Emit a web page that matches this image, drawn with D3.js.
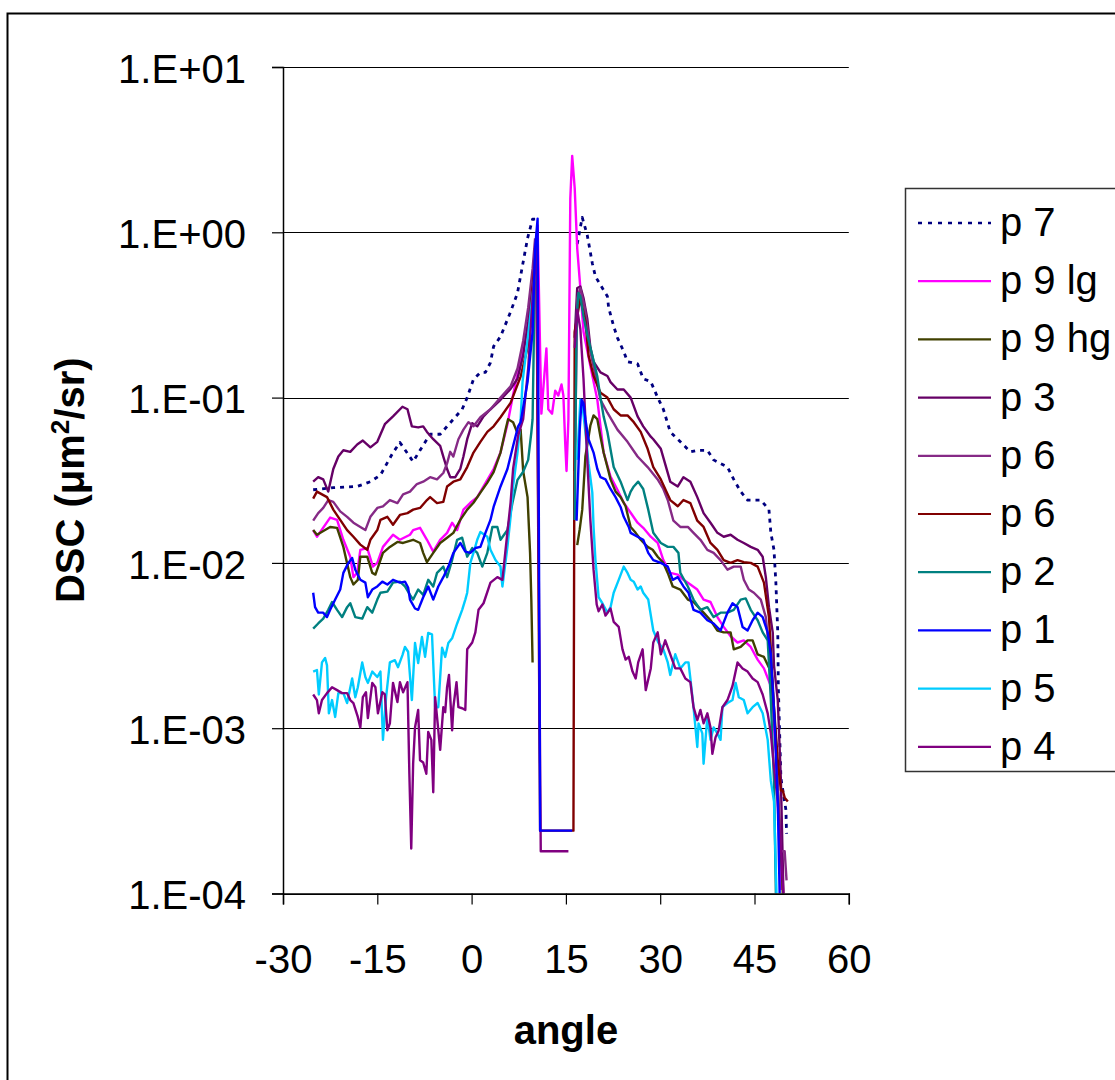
<!DOCTYPE html>
<html>
<head>
<meta charset="utf-8">
<script src="https://cdn.jsdelivr.net/npm/d3@7"></script>
<style>
  html, body { margin: 0; padding: 0; background: #fff; }
  svg { display: block; font-family: "Liberation Sans", Arial, sans-serif; }
</style>
</head>
<body>
<svg id="chart" width="1115" height="1080"></svg>
<script>
// ---------------- DATA ----------------
const angleTicks = [-30, -15, 0, 15, 30, 45, 60];
const dscTicks = [10, 1, 0.1, 0.01, 0.001, 0.0001];
const dscTickLabels = ["1.E+01", "1.E+00", "1.E-01", "1.E-02", "1.E-03", "1.E-04"];

const seriesNames  = ["p 7", "p 9 lg", "p 9 hg", "p 3", "p 6", "p 6", "p 2", "p 1", "p 5", "p 4"];
const seriesColors = ["#000080", "#FF00FF", "#404000", "#660066", "#862A86", "#800000", "#008080", "#0000FF", "#00CCFF", "#800080"];

const p7 = [[-25.2,0.0277],[-22.0,0.0285],[-18.2,0.029],[-16.1,0.031],[-14.5,0.034],[-12.5,0.0465],[-11.4,0.0535],[-9.3,0.041],[-8.2,0.048],[-6.6,0.060],[-5.0,0.060],[-2.9,0.074],[-1.5,0.085],[-0.7,0.10],[0.3,0.129],[1.4,0.142],[2.2,0.142],[3.0,0.163],[3.5,0.204],[4.6,0.234],[6.2,0.33],[7.3,0.43],[8.1,0.63],[8.9,0.92],[9.7,1.2],[10.5,1.2],[10.6,null],
  [16.8,0.85],[17.6,1.23],[18.4,0.96],[19.2,0.65],[19.7,0.54],[20.5,0.48],[21.6,0.41],[21.8,0.35],[22.6,0.27],[23.2,0.23],[24.2,0.19],[24.8,0.165],[26.4,0.16],[27.3,0.13],[28.5,0.125],[29.6,0.10],[30.5,0.085],[31.6,0.062],[32.8,0.056],[34.8,0.047],[35.9,0.048],[37.5,0.048],[38.5,0.042],[40.7,0.038],[41.7,0.032],[42.8,0.027],[43.9,0.024],[46.0,0.024],[47.3,0.021],[47.6,0.0152],[48.1,0.012],[48.4,0.0076],[48.7,0.0038],[48.8,0.00172],[49.2,0.0005],[50.0,0.00032],[50.1,0.00023]];

const p9lg = [[-25.2,0.0158],[-24.6,0.0144],[-22.5,0.0188],[-21.4,0.0182],[-20.4,0.0138],[-19.3,0.0109],[-18.8,0.0082],[-18.2,0.0087],[-17.7,0.012],[-16.6,0.0123],[-15.7,0.0095],[-15.0,0.010],[-14.1,0.0125],[-12.5,0.0148],[-11.4,0.0138],[-9.8,0.0148],[-9.3,0.0158],[-8.2,0.0163],[-7.1,0.0138],[-6.1,0.0117],[-5.0,0.0138],[-3.9,0.0152],[-3.1,0.0175],[-2.3,0.0158],[-1.3,0.021],[-0.2,0.0231],[0.9,0.025],[1.9,0.029],[3.5,0.037],[4.6,0.0465],[5.7,0.069],[6.6,0.104],[7.8,0.17],[8.9,0.26],[9.7,0.44],[10.1,0.74],[10.5,1.1],[11.1,0.08],[11.9,0.198],[12.2,0.085],[12.8,0.08],[13.3,0.11],[13.8,0.103],[14.3,0.12],[14.6,0.103],[14.9,0.052],[15.1,0.036],[15.4,0.074],[15.7,1.6],[16.0,2.9],[16.4,1.85],[16.8,0.8],[17.3,0.46],[17.8,0.25],[18.9,0.155],[20.0,0.097],[21.0,0.0465],[22.1,0.0333],[23.2,0.0277],[24.2,0.0231],[25.3,0.0201],[26.4,0.0175],[27.3,0.0163],[28.5,0.0144],[29.6,0.0132],[30.5,0.0104],[31.6,0.0087],[32.8,0.0085],[33.7,0.0079],[34.8,0.0074],[35.9,0.0069],[36.9,0.006],[38.0,0.0058],[39.1,0.0047],[40.1,0.0041],[41.2,0.0036],[42.3,0.0033],[43.3,0.0034],[44.4,0.0031],[45.5,0.0026],[46.5,0.0023],[47.6,0.0018],[48.4,0.00073],[48.8,0.00028],[49.2,0.000105]];

const p9hg = [[-25.2,0.0158],[-24.6,0.0148],[-22.5,0.0165],[-21.4,0.0163],[-20.4,0.0125],[-19.3,0.0082],[-18.8,0.0074],[-18.1,0.0079],[-17.7,0.0109],[-16.6,0.0109],[-15.8,0.0087],[-15.3,0.0085],[-14.5,0.0104],[-14.1,0.0115],[-13.0,0.0125],[-11.8,0.0134],[-10.9,0.0132],[-9.3,0.0138],[-8.2,0.0132],[-7.7,0.0115],[-7.1,0.0101],[-6.1,0.0115],[-5.0,0.0132],[-3.9,0.0142],[-2.9,0.0152],[-1.8,0.0182],[-0.7,0.021],[0.3,0.0231],[1.4,0.0266],[2.5,0.0306],[3.5,0.0354],[4.6,0.0465],[5.4,0.064],[5.8,0.074],[6.6,0.071],[7.3,0.061],[7.8,0.064],[8.2,0.036],[8.9,0.025],[9.3,0.0115],[9.5,0.006],[9.7,0.0025],[9.8,null],
  [16.8,0.0128],[17.2,0.016],[17.6,0.021],[18.1,0.044],[18.9,0.068],[19.4,0.078],[20.0,0.074],[20.5,0.058],[21.0,0.0465],[21.6,0.038],[22.1,0.032],[22.9,0.027],[23.7,0.025],[24.5,0.022],[25.3,0.0165],[26.1,0.0152],[26.9,0.0138],[28.0,0.0125],[28.8,0.012],[29.6,0.0109],[30.5,0.010],[31.2,0.0087],[32.0,0.0072],[33.2,0.0069],[34.4,0.006],[35.3,0.0058],[36.9,0.005],[38.0,0.0045],[39.1,0.0039],[40.1,0.0038],[41.2,0.0038],[41.7,0.003],[42.8,0.0031],[43.9,0.0034],[44.7,0.0034],[45.5,0.0028],[46.5,0.0027],[47.6,0.0022],[48.4,0.00085],[48.8,0.00036],[49.2,0.000185],[49.5,0.0001]];

const p3 = [[-25.2,0.031],[-24.4,0.033],[-23.6,0.032],[-22.8,0.027],[-22.0,0.037],[-21.2,0.044],[-20.4,0.048],[-19.3,0.047],[-18.2,0.052],[-17.3,0.055],[-16.1,0.050],[-15.0,0.054],[-13.8,0.069],[-12.5,0.077],[-11.0,0.088],[-10.2,0.085],[-9.5,0.067],[-8.5,0.066],[-7.7,0.067],[-7.1,0.062],[-6.1,0.056],[-5.0,0.051],[-4.5,0.044],[-3.9,0.037],[-3.4,0.033],[-2.6,0.033],[-1.8,0.037],[-1.3,0.044],[-0.7,0.056],[0.1,0.070],[0.9,0.067],[1.9,0.077],[3.0,0.085],[4.6,0.097],[6.2,0.113],[7.3,0.13],[8.2,0.18],[9.0,0.29],[9.7,0.50],[10.1,0.80],[10.5,1.03],[10.6,null],
  [16.4,0.23],[16.8,0.46],[17.3,0.47],[17.8,0.40],[18.4,0.30],[18.9,0.20],[19.4,0.165],[20.5,0.142],[21.6,0.135],[22.1,0.124],[23.2,0.112],[24.2,0.112],[25.3,0.10],[26.4,0.077],[27.3,0.067],[28.5,0.058],[28.9,0.056],[30.1,0.049],[31.6,0.031],[32.8,0.029],[33.7,0.033],[34.8,0.031],[35.9,0.025],[36.9,0.020],[38.0,0.0175],[39.1,0.0152],[40.1,0.0144],[41.2,0.0148],[42.3,0.0138],[43.3,0.0132],[44.4,0.0125],[45.5,0.012],[46.3,0.0109],[46.8,0.0082],[47.3,0.0054],[47.9,0.0038],[48.1,0.0024],[48.7,0.00148],[49.2,0.00048],[49.6,0.0001]];

const p6a = [[-25.2,0.018],[-24.4,0.020],[-23.6,0.0215],[-22.8,0.024],[-22.0,0.0234],[-20.9,0.0205],[-19.8,0.019],[-18.8,0.0175],[-17.7,0.0165],[-16.9,0.0158],[-16.1,0.019],[-15.0,0.0215],[-14.1,0.022],[-13.0,0.024],[-11.8,0.023],[-10.9,0.026],[-9.8,0.027],[-8.7,0.030],[-7.7,0.031],[-6.6,0.033],[-5.5,0.032],[-4.5,0.035],[-3.9,0.040],[-3.4,0.047],[-2.9,0.044],[-2.1,0.056],[-1.3,0.064],[-0.5,0.071],[0.3,0.067],[1.4,0.076],[3.0,0.085],[4.6,0.10],[6.2,0.117],[7.3,0.15],[8.2,0.22],[9.0,0.35],[9.7,0.60],[10.1,0.92],[10.2,null],
  [16.4,0.036],[16.8,0.40],[17.3,0.46],[18.0,0.35],[18.9,0.19],[20.0,0.12],[20.5,0.097],[21.6,0.081],[23.2,0.064],[24.8,0.054],[26.4,0.044],[28.0,0.038],[29.6,0.032],[30.5,0.028],[31.2,0.024],[32.1,0.018],[33.2,0.0165],[34.4,0.0165],[35.3,0.0152],[36.4,0.0138],[37.5,0.012],[38.5,0.0115],[39.6,0.0104],[40.7,0.0091],[41.7,0.0095],[42.8,0.0095],[43.3,0.0079],[44.1,0.0069],[44.9,0.0066],[46.0,0.006],[46.8,0.0047],[47.3,0.003],[47.9,0.0019],[48.5,0.00064],[49.2,0.00018],[49.8,0.00018],[50.1,0.00012]];

const p6b = [[-25.2,0.0245],[-24.6,0.027],[-23.0,0.025],[-22.0,0.021],[-20.9,0.0182],[-19.8,0.0158],[-18.8,0.0144],[-17.7,0.0129],[-16.6,0.012],[-16.1,0.0138],[-15.0,0.0158],[-14.5,0.0182],[-13.4,0.019],[-12.5,0.017],[-11.4,0.0195],[-10.2,0.020],[-9.3,0.021],[-8.2,0.0215],[-7.1,0.024],[-6.6,0.025],[-5.5,0.023],[-4.5,0.0234],[-3.9,0.029],[-2.9,0.031],[-1.8,0.032],[-0.7,0.038],[0.3,0.0465],[1.4,0.054],[2.5,0.062],[3.5,0.067],[4.6,0.076],[6.2,0.093],[7.8,0.134],[8.9,0.20],[9.3,0.29],[9.8,0.50],[10.3,0.85],[10.9,0.00024],[16.2,0.00024],
  [16.4,0.25],[16.8,0.31],[17.3,0.40],[18.1,0.29],[18.6,0.18],[19.4,0.135],[20.5,0.107],[21.6,0.10],[22.6,0.085],[23.7,0.078],[24.8,0.078],[25.8,0.071],[26.9,0.062],[28.0,0.049],[28.9,0.038],[30.1,0.032],[31.6,0.024],[32.8,0.022],[33.7,0.024],[34.8,0.023],[35.9,0.018],[36.9,0.0165],[38.0,0.0132],[39.1,0.012],[40.1,0.0104],[41.2,0.010],[42.3,0.0104],[43.3,0.0101],[44.4,0.010],[45.5,0.0095],[46.5,0.0076],[47.3,0.0047],[47.6,0.003],[47.9,0.0017],[48.7,0.00064],[49.2,0.00042],[49.5,0.00042],[49.8,0.00038],[50.3,0.00036]];

const p2 = [[-25.2,0.0040],[-24.4,0.0043],[-23.6,0.0046],[-22.8,0.0052],[-22.2,0.0058],[-21.4,0.0052],[-20.6,0.0047],[-19.8,0.0054],[-19.3,0.0057],[-18.5,0.0047],[-17.4,0.0046],[-16.6,0.0054],[-15.8,0.0050],[-15.0,0.0060],[-14.5,0.0066],[-13.4,0.0067],[-12.5,0.0076],[-11.4,0.0077],[-10.6,0.0072],[-9.8,0.0064],[-9.3,0.0060],[-8.5,0.0069],[-7.7,0.0064],[-6.9,0.0079],[-6.1,0.0072],[-5.5,0.0087],[-4.5,0.0095],[-3.9,0.0082],[-3.1,0.0104],[-2.3,0.0138],[-1.5,0.0142],[-0.7,0.0109],[0.1,0.0123],[0.9,0.0115],[1.7,0.0095],[2.5,0.0115],[3.3,0.0165],[4.1,0.0165],[4.6,0.0138],[5.7,0.0158],[6.5,0.0231],[7.3,0.0318],[8.2,0.0356],[9.0,0.042],[9.5,0.0615],[9.7,0.074],[10.1,0.69],[10.5,0.85],[10.6,null],
  [16.4,0.0182],[16.7,0.30],[17.0,0.43],[17.3,0.41],[17.8,0.31],[18.4,0.24],[19.2,0.18],[20.0,0.134],[20.5,0.10],[21.0,0.077],[21.6,0.062],[22.6,0.038],[23.7,0.031],[24.8,0.024],[25.3,0.027],[25.8,0.029],[26.5,0.031],[27.3,0.028],[28.1,0.021],[28.9,0.0152],[30.1,0.0132],[31.2,0.0125],[32.1,0.0125],[32.9,0.0115],[33.2,0.0087],[34.4,0.0072],[35.3,0.006],[36.4,0.0052],[37.5,0.0054],[38.5,0.0047],[39.6,0.005],[40.7,0.005],[41.7,0.0052],[42.8,0.006],[43.6,0.0061],[44.4,0.0052],[45.5,0.0045],[46.3,0.0038],[47.1,0.0034],[47.6,0.00148],[48.1,0.00048],[48.4,0.0001]];

const p1 = [[-25.2,0.0066],[-24.9,0.0054],[-24.4,0.0050],[-23.6,0.0050],[-23.0,0.0047],[-22.5,0.0052],[-21.7,0.0060],[-20.9,0.0069],[-20.4,0.0087],[-19.6,0.010],[-19.0,0.0107],[-18.5,0.0091],[-17.7,0.0079],[-16.9,0.0076],[-16.5,0.0062],[-15.8,0.0069],[-15.0,0.0072],[-14.2,0.0077],[-13.4,0.0074],[-12.5,0.0079],[-11.4,0.0076],[-10.6,0.0077],[-10.1,0.0071],[-9.8,0.0060],[-9.0,0.0053],[-8.5,0.0052],[-7.7,0.0062],[-6.9,0.0072],[-6.1,0.0060],[-5.3,0.0072],[-4.5,0.0082],[-3.7,0.0095],[-2.9,0.0115],[-1.8,0.0132],[-1.0,0.0117],[-0.2,0.0115],[0.6,0.0123],[1.4,0.0125],[2.2,0.0152],[3.0,0.0182],[3.5,0.0218],[4.6,0.029],[5.7,0.037],[6.6,0.051],[7.4,0.067],[7.8,0.071],[8.9,0.124],[9.7,0.25],[10.1,0.80],[10.5,1.21],[10.9,0.00024],[16.0,0.00024],[16.1,null],
  [16.7,0.018],[17.2,0.064],[17.5,0.097],[17.8,0.092],[18.1,0.074],[18.6,0.056],[19.4,0.0465],[20.0,0.037],[20.5,0.033],[21.3,0.032],[22.1,0.028],[22.9,0.025],[23.7,0.0218],[24.2,0.019],[25.0,0.0165],[25.3,0.0152],[26.4,0.0144],[27.3,0.0138],[28.1,0.0115],[28.9,0.0104],[30.1,0.010],[31.2,0.0095],[32.0,0.0079],[32.8,0.0082],[33.7,0.0072],[34.5,0.0066],[35.3,0.0052],[36.4,0.0050],[37.5,0.0045],[38.5,0.0043],[39.6,0.0039],[40.7,0.0050],[41.5,0.0057],[42.3,0.0054],[43.1,0.0041],[43.9,0.0039],[44.7,0.0045],[45.5,0.0050],[46.3,0.0047],[47.1,0.0038],[47.6,0.0028],[48.2,0.0011],[48.7,0.00036],[49.0,0.0001]];

const p5 = [[-25.2,0.0022],[-24.6,0.00225],[-24.3,0.0016],[-23.8,0.0025],[-23.3,0.00266],[-23.0,0.0024],[-22.7,0.00123],[-22.2,0.00148],[-21.7,0.00117],[-21.2,0.00163],[-20.4,0.00163],[-19.8,0.00142],[-19.0,0.0020],[-18.5,0.00154],[-18.1,0.00177],[-17.4,0.0025],[-16.9,0.00204],[-16.5,0.00188],[-15.8,0.0022],[-15.0,0.00204],[-14.5,0.0022],[-14.1,0.00085],[-13.6,0.00154],[-13.0,0.0025],[-12.2,0.00258],[-11.7,0.00234],[-11.0,0.00277],[-10.6,0.0031],[-10.1,0.0029],[-9.5,0.00148],[-9.0,0.00328],[-8.5,0.00248],[-7.9,0.00357],[-7.4,0.0027],[-6.9,0.00377],[-6.3,0.0037],[-5.8,0.00134],[-5.3,0.00134],[-4.7,0.00307],[-4.2,0.0027],[-3.7,0.00328],[-3.1,0.0035],[-2.3,0.0043],[-1.5,0.0052],[-1.0,0.006],[-0.7,0.0066],[-0.2,0.010],[0.3,0.0115],[0.9,0.0138],[1.4,0.0154],[2.5,0.0144],[3.0,0.012],[3.8,0.0104],[4.6,0.0095],[4.9,0.0072],[5.7,0.0125],[6.2,0.019],[6.6,0.029],[7.3,0.0465],[7.8,0.074],[8.1,0.124],[9.0,0.24],[9.8,0.45],[10.5,0.88],[10.6,null],
  [16.8,0.042],[17.3,0.097],[17.6,0.092],[18.1,0.062],[18.6,0.040],[19.2,0.0266],[19.4,0.0165],[19.7,0.0104],[20.2,0.0062],[20.8,0.0057],[21.6,0.0050],[22.1,0.0054],[22.6,0.0066],[23.4,0.0079],[24.2,0.0095],[24.8,0.0087],[25.3,0.0079],[25.8,0.0077],[26.4,0.0069],[26.9,0.0072],[27.3,0.0066],[28.1,0.006],[28.9,0.0039],[29.7,0.0033],[30.5,0.0030],[31.2,0.0025],[31.6,0.0021],[32.4,0.0028],[33.2,0.0023],[34.0,0.0025],[34.5,0.0025],[34.8,0.0020],[35.3,0.00134],[35.9,0.00077],[36.1,0.00107],[36.7,0.00093],[36.9,0.00061],[37.5,0.00117],[38.0,0.00085],[38.5,0.00101],[39.1,0.00093],[39.6,0.00085],[39.9,0.00134],[40.7,0.00142],[41.5,0.00148],[42.0,0.00188],[42.5,0.00154],[43.3,0.00148],[43.9,0.00123],[44.7,0.00134],[45.5,0.00142],[46.3,0.00123],[47.1,0.00085],[47.6,0.00048],[48.1,0.00036],[48.5,0.0001]];

const p4 = [[-25.2,0.0016],[-24.6,0.00148],[-24.3,0.00123],[-23.8,0.00148],[-23.0,0.00163],[-22.2,0.00177],[-21.4,0.0017],[-20.6,0.00163],[-19.8,0.00163],[-19.3,0.00148],[-18.8,0.00142],[-18.1,0.00117],[-17.7,0.00101],[-17.3,0.00154],[-16.8,0.00165],[-16.5,0.00115],[-15.8,0.00188],[-15.3,0.00177],[-14.9,0.00123],[-14.2,0.00165],[-13.8,0.0016],[-13.4,0.00097],[-13.0,0.00107],[-12.5,0.00188],[-11.8,0.00144],[-11.4,0.0019],[-10.9,0.00165],[-10.2,0.0019],[-9.9,0.00053],[-9.6,0.000187],[-9.3,0.00061],[-9.0,0.00101],[-8.5,0.00129],[-8.2,0.00064],[-7.7,0.00062],[-7.2,0.00053],[-6.9,0.00095],[-6.4,0.00085],[-6.1,0.00041],[-5.8,0.00154],[-5.5,0.00117],[-5.0,0.00074],[-4.5,0.00134],[-4.2,0.00125],[-3.9,0.00177],[-3.6,0.0021],[-3.1,0.00097],[-2.9,0.00134],[-2.4,0.0019],[-2.1,0.00134],[-1.5,0.00132],[-1.0,0.00129],[-0.7,0.0030],[0.1,0.0033],[0.6,0.0038],[1.1,0.0052],[1.9,0.0057],[3.0,0.0076],[4.1,0.0082],[4.9,0.0079],[5.4,0.012],[6.2,0.0231],[6.6,0.037],[7.4,0.059],[8.2,0.074],[9.0,0.15],[9.7,0.4],[10.3,0.9],[11.0,0.00018],[15.4,0.00018],[15.5,null],
  [16.4,0.2],[16.8,0.34],[17.3,0.26],[17.8,0.13],[18.4,0.042],[18.9,0.018],[19.4,0.0091],[19.9,0.0056],[20.2,0.0051],[20.8,0.0056],[21.3,0.0048],[22.1,0.0053],[22.6,0.0044],[23.4,0.0041],[24.0,0.003],[24.5,0.0026],[25.0,0.0027],[25.6,0.0022],[26.1,0.002],[26.5,0.0025],[27.2,0.003],[27.7,0.0017],[28.5,0.0023],[28.9,0.0033],[29.6,0.0038],[30.1,0.0028],[30.8,0.0034],[31.6,0.0028],[32.4,0.0023],[33.2,0.0023],[34.0,0.002],[34.8,0.0019],[35.3,0.00134],[35.9,0.00112],[36.4,0.00129],[36.9,0.00107],[37.5,0.00123],[38.0,0.00101],[38.3,0.0007],[38.8,0.00088],[39.3,0.00097],[39.9,0.00134],[40.7,0.00148],[41.5,0.0018],[42.3,0.0025],[43.1,0.0023],[43.9,0.0022],[44.7,0.002],[45.5,0.0019],[46.3,0.0016],[47.1,0.00123],[47.6,0.00093],[48.1,0.00058],[48.7,0.00036],[49.2,0.000186],[49.6,0.0001]];

const seriesData = [p7, p9lg, p9hg, p3, p6a, p6b, p2, p1, p5, p4];
// draw order (blue drawn last so its central drop stays on top)
const drawOrder = [0, 1, 2, 3, 4, 5, 6, 8, 9, 7];

// ---------------- CHART ----------------
const svg = d3.select("#chart");
const FONT = '"Liberation Sans", Arial, sans-serif';

const plot = { left: 283, right: 848.8, top: 67, bottom: 893.5 };
const x = d3.scaleLinear().domain([-30, 60]).range([plot.left, plot.right]);
const y = d3.scaleLog().domain([1e-4, 10]).range([plot.bottom, plot.top]);

svg.append("rect").attr("width", 1115).attr("height", 1080).attr("fill", "#fff");
// outer chart border (only left and top visible in frame)
svg.append("rect").attr("x", 7.5).attr("y", 13.5).attr("width", 1300).attr("height", 1300)
  .attr("fill", "none").attr("stroke", "#000").attr("stroke-width", 2);

// gridlines
svg.append("g").selectAll("line").data(dscTicks).join("line")
  .attr("x1", plot.left).attr("x2", plot.right)
  .attr("y1", d => Math.round(y(d)) + 0.5).attr("y2", d => Math.round(y(d)) + 0.5)
  .attr("stroke", "#000").attr("stroke-width", 1);

// clip
svg.append("clipPath").attr("id", "clip").append("rect")
  .attr("x", plot.left).attr("y", plot.top - 40)
  .attr("width", plot.right - plot.left + 20).attr("height", plot.bottom - plot.top + 40);

const line = d3.line()
  .defined(d => d[1] != null)
  .x(d => x(d[0]))
  .y(d => y(d[1]));

const gLines = svg.append("g").attr("clip-path", "url(#clip)");
drawOrder.forEach(i => {
  gLines.append("path")
    .datum(seriesData[i])
    .attr("fill", "none")
    .attr("stroke", seriesColors[i])
    .attr("stroke-width", i === 0 ? 2.8 : 2.4)
    .attr("stroke-dasharray", i === 0 ? "4,5" : null)
    .attr("stroke-linejoin", "round")
    .attr("d", line);
});

// axes
const yAxis = d3.axisLeft(y).tickValues(dscTicks)
  .tickFormat((d, i) => dscTickLabels[i]).tickSize(11).tickPadding(26);
const gy = svg.append("g").attr("transform", `translate(${plot.left},0)`).call(yAxis);
gy.select(".domain").attr("stroke", "#000").attr("stroke-width", 1.5);
gy.selectAll(".tick line").attr("stroke", "#000").attr("stroke-width", 1.2);
gy.selectAll(".tick text").attr("font-family", FONT).attr("font-size", 40)
  .attr("fill", "#000").attr("dy", "0.38em");

const xAxis = d3.axisBottom(x).tickValues(angleTicks).tickFormat(d => d)
  .tickSize(11).tickPadding(40);
const gx = svg.append("g").attr("transform", `translate(0,${plot.bottom})`).call(xAxis);
gx.select(".domain").attr("stroke", "#000").attr("stroke-width", 1.5);
gx.selectAll(".tick line").attr("stroke", "#000").attr("stroke-width", 1.2);
gx.selectAll(".tick text").attr("font-family", FONT).attr("font-size", 40)
  .attr("fill", "#000").attr("dy", "0.71em");

// axis titles
svg.append("text")
  .attr("x", (plot.left + plot.right) / 2).attr("y", 1044)
  .attr("text-anchor", "middle").attr("font-family", FONT)
  .attr("font-size", 40).attr("font-weight", "bold").text("angle");

const yt = svg.append("text")
  .attr("transform", `translate(84,${(plot.top + plot.bottom) / 2}) rotate(-90)`)
  .attr("text-anchor", "middle").attr("font-family", FONT)
  .attr("font-size", 40).attr("font-weight", "bold");
yt.append("tspan").text("DSC (\u03BCm");
yt.append("tspan").attr("font-size", 26).attr("dy", -15).text("2");
yt.append("tspan").attr("dy", 15).text("/sr)");

// legend
const legend = svg.append("g");
legend.append("rect").attr("x", 905.5).attr("y", 188.5).attr("width", 300).attr("height", 583)
  .attr("fill", "#fff").attr("stroke", "#333").attr("stroke-width", 1.5);
const legY0 = 223, legStep = 58.2;
seriesNames.forEach((name, i) => {
  const ly = legY0 + i * legStep;
  legend.append("line").attr("x1", 918).attr("x2", 991).attr("y1", ly).attr("y2", ly)
    .attr("stroke", seriesColors[i]).attr("stroke-width", i === 0 ? 2.6 : 2.2)
    .attr("stroke-dasharray", i === 0 ? "4,6" : null);
  legend.append("text").attr("x", 1000).attr("y", ly + 13)
    .attr("font-family", FONT).attr("font-size", 40).attr("fill", "#000").text(name);
});
</script>
</body>
</html>
